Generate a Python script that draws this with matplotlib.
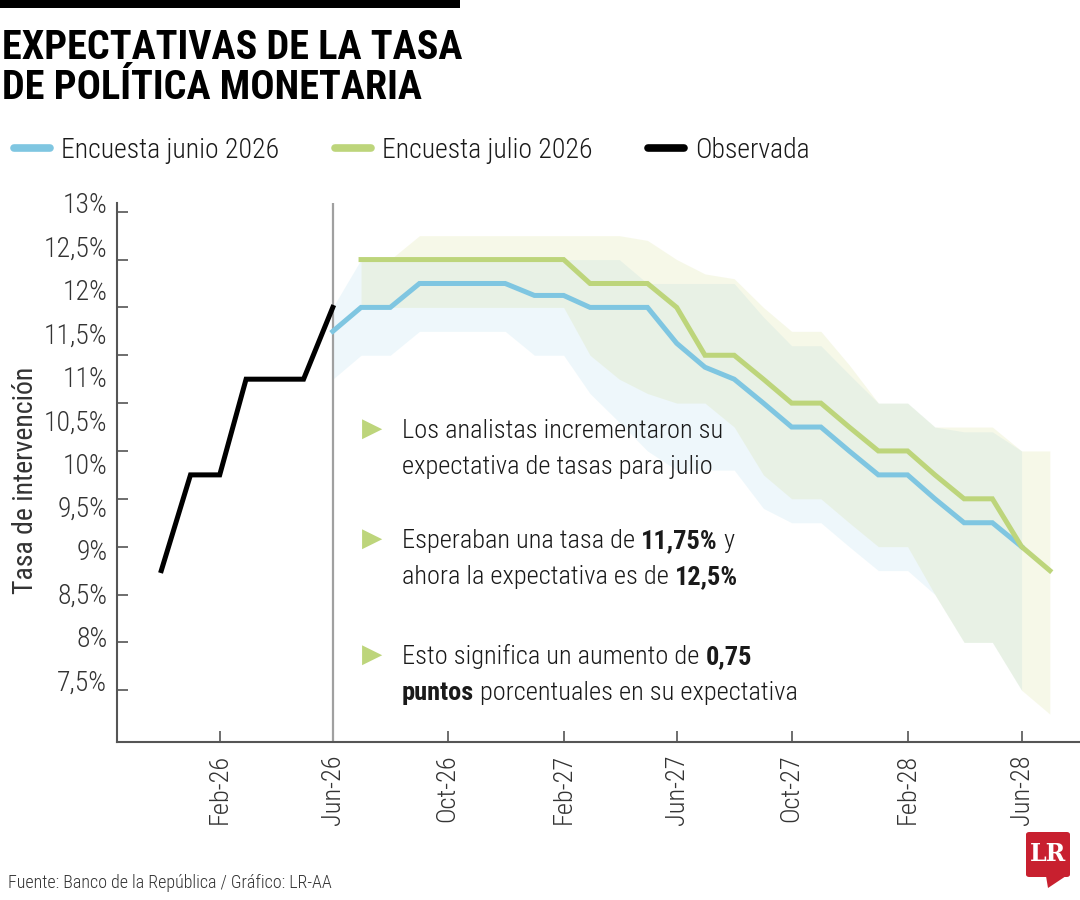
import matplotlib
matplotlib.use("Agg")
import matplotlib.pyplot as plt
import matplotlib.dates as mdates
import matplotlib.ticker as mticker
from matplotlib import font_manager
from matplotlib.patches import Rectangle, FancyBboxPatch, Polygon
import numpy as np
import pandas as pd

# ---- data ----
obs_months = ["2025-12", "2026-01", "2026-02", "2026-03", "2026-04", "2026-05", "2026-06"]
obs_rate = [9.25, 10.25, 10.25, 11.25, 11.25, 11.25, 12.0]

# Encuesta junio 2026: jun-26 .. jun-28
jun_months = pd.date_range("2026-06-01", "2028-06-01", freq="MS")
jun_mid = [11.75, 12.0, 12.0, 12.25, 12.25, 12.25, 12.25, 12.125, 12.125, 12.0, 12.0, 12.0,
           11.625, 11.375, 11.25, 11.0, 10.75, 10.75, 10.5, 10.25, 10.25, 10.0, 9.75, 9.75, 9.5]
jun_high = [12.0, 12.5, 12.5, 12.5, 12.5, 12.5, 12.5, 12.5, 12.5, 12.5, 12.5, 12.25,
            12.25, 12.25, 12.25, 11.9, 11.6, 11.6, 11.3, 11.0, 11.0, 10.75, 10.7, 10.7, 10.5]
jun_low = [11.25, 11.5, 11.5, 11.75, 11.75, 11.75, 11.75, 11.5, 11.5, 11.1, 10.8, 10.5,
           10.3, 10.3, 10.3, 9.9, 9.75, 9.75, 9.5, 9.25, 9.25, 9.0, 8.5, 8.5, 8.0]

# Encuesta julio 2026: jul-26 .. jul-28
jul_months = pd.date_range("2026-07-01", "2028-07-01", freq="MS")
jul_mid = [12.5, 12.5, 12.5, 12.5, 12.5, 12.5, 12.5, 12.5, 12.25, 12.25, 12.25, 12.0,
           11.5, 11.5, 11.25, 11.0, 11.0, 10.75, 10.5, 10.5, 10.25, 10.0, 10.0, 9.5, 9.25]
jul_high = [12.5, 12.5, 12.75, 12.75, 12.75, 12.75, 12.75, 12.75, 12.75, 12.75, 12.7, 12.5,
            12.35, 12.3, 12.0, 11.75, 11.75, 11.4, 11.0, 11.0, 10.75, 10.75, 10.75, 10.5, 10.5]
jul_low = [12.0, 12.0, 12.0, 12.0, 12.0, 12.0, 12.0, 12.0, 11.5, 11.25, 11.1, 11.0,
           11.0, 10.75, 10.25, 10.0, 10.0, 9.75, 9.5, 9.5, 9.0, 8.5, 8.5, 8.0, 7.75]

y_ticks = [8.0, 8.5, 9.0, 9.5, 10.0, 10.5, 11.0, 11.5, 12.0, 12.5, 13.0]
y_labels = ["13%", "12,5%", "12%", "11,5%", "11%", "10,5%", "10%", "9,5%", "9%", "8,5%", "8%", "7,5%"]

BLUE = "#7fc6e1"
GREEN = "#bdd57b"
TXT = "#1a1a1a"
LIGHT = "light"

# ---- fonts: prefer a condensed family ----
names = {f.name for f in font_manager.fontManager.ttflist}
body = "DejaVu Sans"
for cand in ["Roboto Condensed", "Liberation Sans Narrow", "Open Sans Condensed", "DejaVu Sans"]:
    if cand in names:
        body = cand
        break
plt.rcParams["font.family"] = [body, "DejaVu Sans"]
plt.rcParams["font.weight"] = LIGHT

fig = plt.figure(figsize=(10.8, 9), dpi=100)
ax = fig.add_axes([117 / 1080, 1 - 741.7 / 900, 1 - 117 / 1080, (741.7 - 203) / 900])

obs_x = pd.to_datetime(obs_months)

ax.fill_between(jun_months, jun_low, jun_high, color=BLUE, alpha=0.13, lw=0)
ax.fill_between(jul_months, jul_low, jul_high, color="#c9d36b", alpha=0.15, lw=0)
ax.axvline(pd.Timestamp("2026-06-01"), color="#a0a0a0", lw=1.6, zorder=2)
l1, = ax.plot(jun_months, jun_mid, color=BLUE, lw=3.6, solid_joinstyle="miter", zorder=3,
              label="Encuesta junio 2026")
l2, = ax.plot(jul_months, jul_mid, color=GREEN, lw=3.6, solid_joinstyle="miter", zorder=4,
              label="Encuesta julio 2026")
l3, = ax.plot(obs_x, obs_rate, color="black", lw=3.6, solid_joinstyle="miter", zorder=5,
              label="Observada")

ax.set_xlim(pd.Timestamp("2025-10-15"), pd.Timestamp("2028-08-02"))
ax.set_ylim(7.462, 13.091)

ax.xaxis.set_major_locator(mdates.MonthLocator(bymonth=[2, 6, 10]))
ax.xaxis.set_major_formatter(mdates.DateFormatter("%b-%y"))
ax.tick_params(axis="x", direction="in", length=8, width=1.2, color="#555555", pad=9,
               labelrotation=90, labelsize=19, labelcolor="#333333")

ax.yaxis.set_major_locator(mticker.FixedLocator(y_ticks))
ax.yaxis.set_major_formatter(mticker.NullFormatter())
ax.yaxis.set_minor_locator(mticker.FixedLocator(np.linspace(13.091, 8.107, len(y_labels))))
ax.yaxis.set_minor_formatter(mticker.FixedFormatter(y_labels))
ax.tick_params(axis="y", which="major", direction="in", length=8, width=1.2, color="#555555")
ax.tick_params(axis="y", which="minor", length=0, pad=7, labelsize=20, labelcolor="#333333")

for s in ["top", "right"]:
    ax.spines[s].set_visible(False)
for s in ["left", "bottom"]:
    ax.spines[s].set_color("#555555")
    ax.spines[s].set_linewidth(1.5)

ax.set_ylabel("Tasa de intervención", fontsize=20, color="#333333")
ax.yaxis.set_label_coords(-0.081, 0.486)

# legend
leg = fig.legend(handles=[l1, l2, l3], loc="upper left", bbox_to_anchor=(14 / 1080, 0.848),
                 ncol=3, frameon=False, fontsize=20, handlelength=1.3, handletextpad=0.4,
                 columnspacing=2.0, borderpad=0, borderaxespad=0, labelcolor=TXT)
for h in leg.legend_handles:
    h.set_linewidth(5.5)
    h.set_solid_capstyle("round")

# title block
fig.add_artist(Rectangle((0, 1 - 8 / 900), 460 / 1080, 8 / 900, transform=fig.transFigure,
                         color="black", lw=0))
fig.text(0.002, 0.968, "EXPECTATIVAS DE LA TASA\nDE POLÍTICA MONETARIA", ha="left", va="top",
         fontsize=29, fontweight="bold", color="black", linespacing=1.08)

# annotation bullets with mixed bold text
renderer = fig.canvas.get_renderer()


def text_w(s, weight, size):
    t = fig.text(0, 0, s, fontsize=size, fontweight=weight)
    w = t.get_window_extent(renderer).width
    t.remove()
    return w


def rich_line(x_px, base_px, parts, size=19):
    gap = text_w("a a", LIGHT, size) - text_w("aa", LIGHT, size)
    x = x_px
    for s, bold in parts:
        w = "bold" if bold else LIGHT
        fig.text(x / 1080, 1 - base_px / 900, s, fontsize=size, fontweight=w, color=TXT,
                 ha="left", va="baseline")
        x += text_w(s, w, size) + gap


bullets = [
    (438, [[("Los analistas incrementaron su", False)],
           [("expectativa de tasas para julio", False)]]),
    (548, [[("Esperaban una tasa de", False), ("11,75%", True), ("y", False)],
           [("ahora la expectativa es de", False), ("12,5%", True)]]),
    (664, [[("Esto significa un aumento de", False), ("0,75", True)],
           [("puntos", True), ("porcentuales en su expectativa", False)]]),
]
for base, lines in bullets:
    fig.text(372 / 1080, 1 - (base - 9) / 900, "▶", family="DejaVu Sans", fontweight="normal",
             fontsize=19, color=GREEN, ha="center", va="center")
    for i, parts in enumerate(lines):
        rich_line(402, base + i * 36, parts)

# source + logo
fig.text(8 / 1080, 1 - 888 / 900, "Fuente: Banco de la República / Gráfico: LR-AA",
         fontsize=13, color="#333333", ha="left", va="baseline")
fig.add_artist(FancyBboxPatch((1026 / 1080, 1 - 877 / 900), 44 / 1080, 45 / 900,
                              boxstyle="round,pad=0,rounding_size=0.003",
                              transform=fig.transFigure, color="#c8202f", lw=0))
fig.add_artist(Polygon([(1046 / 1080, 1 - 876 / 900), (1066 / 1080, 1 - 876 / 900),
                        (1048 / 1080, 1 - 888 / 900)], closed=True,
                       transform=fig.transFigure, color="#c8202f", lw=0))
fig.text(1048 / 1080, 1 - 854 / 900, "LR", family="DejaVu Serif", fontweight="bold",
         fontsize=17, color="white", ha="center", va="center")

fig.savefig("out.png", dpi=100)
